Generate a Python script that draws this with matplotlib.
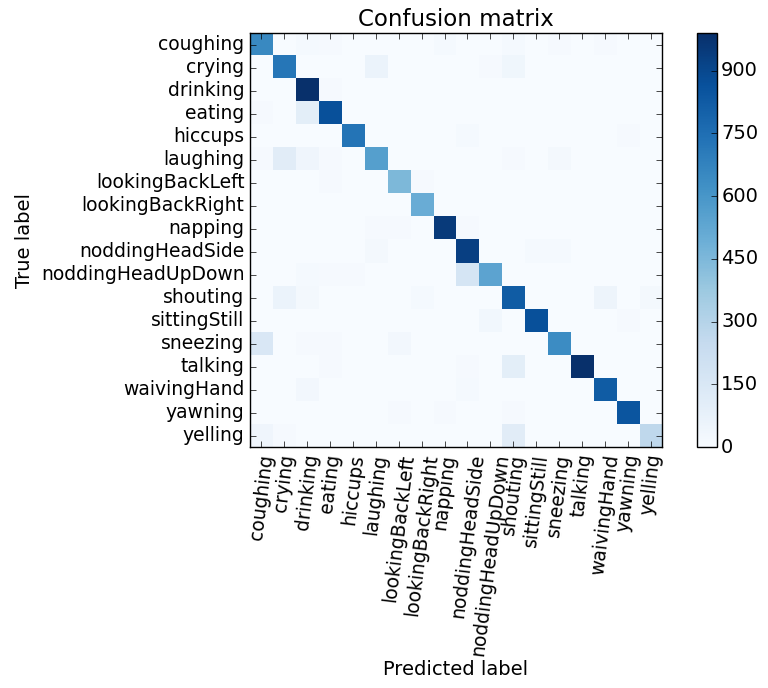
import numpy as np
import matplotlib
matplotlib.use("Agg")
import matplotlib.pyplot as plt

classes = ["coughing", "crying", "drinking", "eating", "hiccups", "laughing",
           "lookingBackLeft", "lookingBackRight", "napping", "noddingHeadSide",
           "noddingHeadUpDown", "shouting", "sittingStill", "sneezing",
           "talking", "waivingHand", "yawning", "yelling"]

# rows = true label, cols = predicted label
cm_rows = [
    [650, 0, 12, 8, 0, 0, 0, 0, 15, 0, 0, 15, 0, 8, 0, 8, 0, 0],
    [0, 720, 0, 0, 0, 60, 0, 0, 0, 0, 10, 35, 0, 0, 0, 0, 0, 0],
    [0, 0, 990, 10, 0, 0, 0, 0, 0, 0, 0, 0, 0, 0, 0, 0, 0, 0],
    [8, 0, 100, 870, 0, 0, 0, 0, 0, 0, 0, 0, 0, 0, 0, 0, 0, 0],
    [0, 0, 0, 0, 730, 0, 0, 0, 0, 15, 0, 0, 0, 0, 0, 0, 8, 0],
    [8, 110, 40, 10, 0, 560, 0, 0, 0, 0, 0, 8, 0, 20, 0, 0, 0, 0],
    [0, 0, 0, 8, 0, 0, 450, 8, 0, 0, 0, 0, 0, 0, 0, 0, 0, 0],
    [0, 0, 0, 0, 0, 0, 0, 500, 0, 0, 0, 0, 0, 0, 0, 0, 0, 0],
    [0, 0, 0, 0, 0, 8, 8, 0, 950, 10, 0, 0, 0, 0, 0, 0, 0, 0],
    [0, 0, 0, 0, 0, 20, 0, 0, 0, 930, 0, 0, 12, 12, 0, 0, 0, 0],
    [0, 0, 15, 8, 10, 0, 0, 0, 0, 170, 540, 0, 0, 0, 0, 0, 0, 0],
    [0, 60, 20, 0, 0, 0, 0, 12, 0, 0, 0, 820, 0, 0, 0, 50, 0, 20],
    [0, 0, 0, 0, 0, 0, 0, 0, 0, 0, 30, 0, 870, 0, 0, 0, 10, 0],
    [150, 0, 10, 8, 0, 0, 25, 0, 0, 0, 0, 0, 0, 640, 0, 0, 0, 0],
    [0, 0, 0, 10, 0, 0, 0, 0, 0, 10, 0, 100, 0, 0, 990, 0, 0, 0],
    [0, 0, 25, 0, 0, 0, 0, 0, 0, 15, 0, 0, 0, 0, 0, 820, 0, 0],
    [0, 0, 0, 0, 0, 0, 8, 0, 10, 0, 0, 10, 0, 0, 0, 0, 850, 0],
    [40, 8, 0, 0, 0, 0, 0, 0, 0, 0, 0, 110, 0, 0, 0, 0, 0, 270],
]

cm = np.array(cm_rows)

plt.style.use("classic")
plt.rcParams["font.size"] = 13.5
fig = plt.figure(figsize=(7.68, 6.88), dpi=100)
ax = fig.add_axes([0.3255, 0.350, 0.5365, 0.602])
cax = fig.add_axes([0.9076, 0.350, 0.026, 0.602])

im = ax.imshow(cm, interpolation="nearest", cmap=plt.cm.Blues, aspect="auto")
ax.set_title("Confusion matrix", fontsize=16.5, pad=5)
cb = fig.colorbar(im, cax=cax, ticks=range(0, 1000, 150))
cb.ax.tick_params(labelsize=14, pad=3)

tick_marks = np.arange(len(classes))
ax.set_xticks(tick_marks)
ax.set_xticklabels(classes, rotation=83, fontsize=13.5)
ax.set_yticks(tick_marks)
ax.set_yticklabels(classes, fontsize=13.5)
ax.set_xlim(-0.5, len(classes) - 0.5)
ax.set_ylim(len(classes) - 0.5, -0.5)

ax.set_ylabel("True label", fontsize=14)
ax.set_xlabel("Predicted label", fontsize=14, labelpad=2)

fig.savefig("out.png", dpi=100)
